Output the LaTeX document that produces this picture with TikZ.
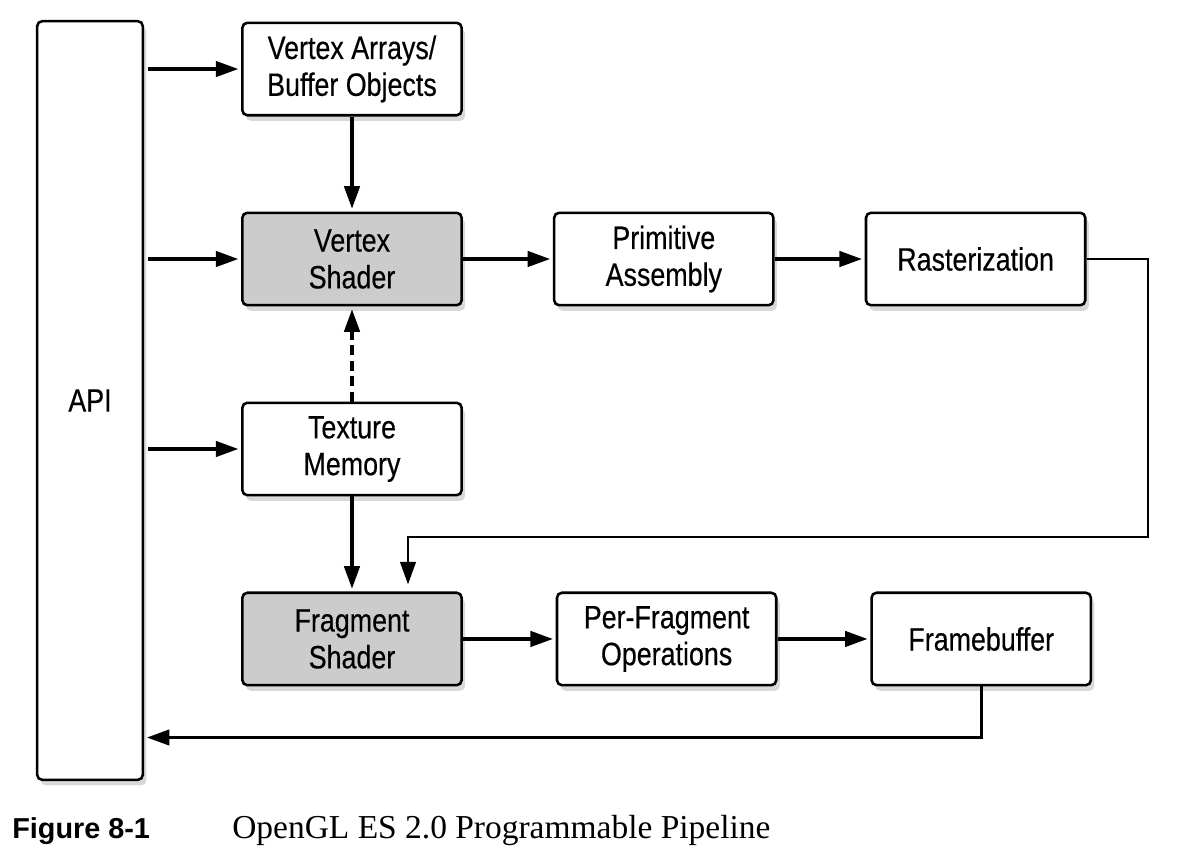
\documentclass[tikz,border=0pt]{standalone}
\usepackage{fontspec}
\setmainfont{Liberation Serif}
\newfontfamily\boxfont{Liberation Sans}[FakeStretch=0.83, FakeBold=0.35]
\newfontfamily\figfont{Liberation Sans}
\usepackage{tikz}
\usetikzlibrary{arrows.meta, positioning, shadows}
\definecolor{shadergray}{HTML}{CCCCCC}

\begin{document}
\begin{tikzpicture}[x=0.025cm, y=-0.025cm,
    stage/.style={draw, line width=1.8pt, rounded corners=3.5pt, fill=white, align=center,
        inner sep=0pt, minimum width=5.48cm, minimum height=2.31cm,
        font=\boxfont\fontsize{23pt}{26.2pt}\selectfont,
        drop shadow={shadow xshift=2.5pt, shadow yshift=-4pt, opacity=0.3}},
    shader/.style={stage, fill=shadergray},
    flow/.style={line width=2.2pt, -{Triangle[length=16pt, width=11pt]}, shorten >=2pt}]
    \useasboundingbox (0,0) rectangle (1198,857);

    % パイプラインの各段
    \node[stage, minimum width=2.64cm, minimum height=18.96cm] (api) at (90,400.5) {API};
    \node[shader] (vs) at (352,259) {Vertex\\Shader};
    \node[stage, above=2.375cm of vs] (va) {Vertex Arrays/\\Buffer Objects};
    \node[stage, right=2.25cm of vs] (pa) {Primitive\\Assembly};
    \node[stage, right=2.25cm of pa] (rast) {Rasterization};
    \node[stage, below=2.375cm of vs] (tm) {Texture\\Memory};
    \node[shader, below=2.375cm of tm] (fs) {Fragment\\Shader};
    \node[stage, right=2.32cm of fs] (pf) {Per-Fragment\\Operations};
    \node[stage, right=2.32cm of pf] (fb) {Framebuffer};

    % APIからの入力
    \draw[flow, shorten <=3pt] (api.east |- va.west) -- (va.west);
    \draw[flow, shorten <=3pt] (api.east |- vs.west) -- (vs.west);
    \draw[flow, shorten <=3pt] (api.east |- tm.west) -- (tm.west);

    % 頂点処理
    \draw[flow] (va.south) -- (vs.north);
    \draw[flow, dash pattern=on 7pt off 4pt] (tm.north) -- (vs.south);
    \draw[flow] (vs.east) -- (pa.west);
    \draw[flow] (pa.east) -- (rast.west);

    % フラグメント処理
    \draw[flow, line width=1.8pt, shorten >=5pt] (rast.east) -| (1148,537) -| ([xshift=1.4cm]fs.north);
    \draw[flow] (tm.south) -- (fs.north);
    \draw[flow] (fs.east) -- (pf.west);
    \draw[flow] (pf.east) -- (fb.west);

    % APIへ戻る
    \coordinate (ret) at (0,737.5);
    \draw[flow, line width=1.9pt] (fb.south) |- (api.east |- ret);

    % 図番号と表題
    \node[anchor=base west, inner sep=0pt, font=\figfont\bfseries\fontsize{20.5pt}{24pt}\selectfont] (figno) at (12,838) {Figure 8-1};
    \node[anchor=base west, inner sep=0pt, font=\fontsize{23.8pt}{28pt}\selectfont] (figtitle) at (232,838) {OpenGL ES 2.0 Programmable Pipeline};
\end{tikzpicture}
\end{document}
